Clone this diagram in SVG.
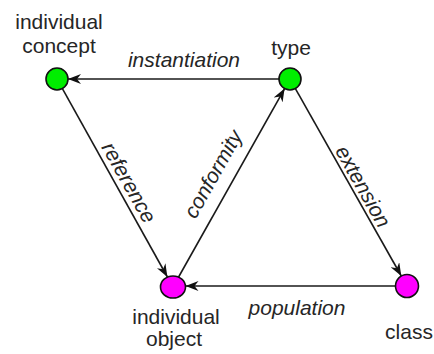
<svg xmlns="http://www.w3.org/2000/svg" width="434" height="354" viewBox="0 0 434 354">
  <style>
    text { font-family: "Liberation Sans", Arial, sans-serif; font-size: 21px; fill: #262626; }
    .lbl { text-anchor: middle; }
    .edge-lbl { font-style: italic; text-anchor: middle; }
    .edge { stroke: #1a1a1a; stroke-width: 1.6; fill: none; marker-end: url(#arrow); }
    .concept { fill: #00ee00; stroke: #111; stroke-width: 1.6; }
    .instance { fill: #ff00ff; stroke: #111; stroke-width: 1.6; }
  </style>
  <defs>
    <marker id="arrow" markerUnits="userSpaceOnUse" markerWidth="14" markerHeight="10" refX="13" refY="5" orient="auto" viewBox="0 0 14 10">
      <path d="M13,5 L0,0 L4,5 L0,10 Z" fill="#111"/>
    </marker>
  </defs>

  <rect width="434" height="354" fill="#ffffff"/>

  <!-- connectors -->
  <g id="connectors">
    <line class="edge" x1="279" y1="79" x2="68" y2="79"/>
    <line class="edge" x1="62.4" y1="88.6" x2="167.4" y2="277"/>
    <line class="edge" x1="178.6" y1="277" x2="284.6" y2="88.6"/>
    <line class="edge" x1="295.4" y1="88.6" x2="401.3" y2="276"/>
    <line class="edge" x1="395.5" y1="286" x2="185.5" y2="286"/>
    <text class="edge-lbl" x="184" y="67">instantiation</text>
    <text class="edge-lbl" x="297" y="315">population</text>
    <text class="edge-lbl" transform="translate(128,183) rotate(60.8)" y="6">reference</text>
    <text class="edge-lbl" transform="translate(215,175) rotate(-60.6)" y="5">conformity</text>
    <text class="edge-lbl" transform="translate(362,187) rotate(60.5)" y="6">extension</text>
  </g>

  <!-- nodes -->
  <g id="individual-concept">
    <circle class="concept" cx="57" cy="79" r="11"/>
    <text class="lbl" x="59" y="29">individual</text>
    <text class="lbl" x="59" y="53">concept</text>
  </g>
  <g id="type">
    <circle class="concept" cx="290" cy="79" r="11"/>
    <text class="lbl" x="291" y="55">type</text>
  </g>
  <g id="individual-object">
    <ellipse class="instance" cx="173" cy="287" rx="12.5" ry="11"/>
    <text class="lbl" x="176" y="324">individual</text>
    <text class="lbl" x="174" y="346">object</text>
  </g>
  <g id="class">
    <circle class="instance" cx="407" cy="286" r="11.5"/>
    <text class="lbl" x="409" y="339">class</text>
  </g>
</svg>
